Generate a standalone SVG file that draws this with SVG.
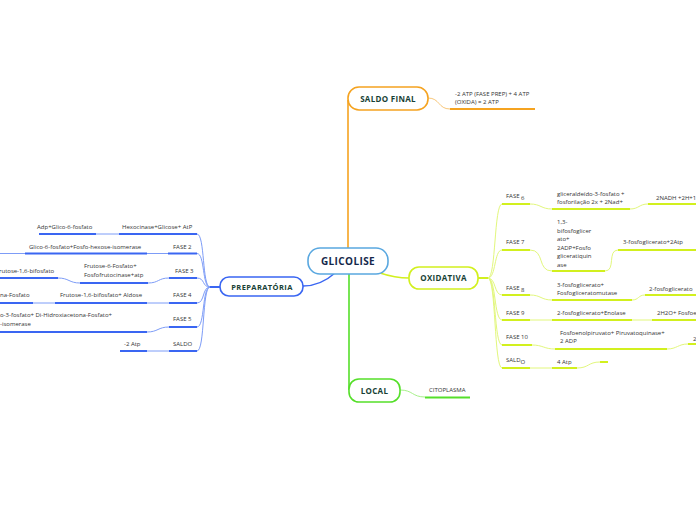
<svg xmlns="http://www.w3.org/2000/svg" width="696" height="520" viewBox="0 0 696 520">
<style>
.bg{fill:#ffffff}
.node{fill:#ffffff;stroke-width:1.6}
.nt{font-family:"Open Sans","DejaVu Sans",sans-serif;font-weight:bold;fill:#173f35;text-anchor:middle}
.t{font-family:"Open Sans","DejaVu Sans",sans-serif;font-size:6px;fill:#333333}
.c{fill:none;stroke-width:1}
.u{fill:none;stroke-width:2}
.blue{stroke:#3a66f2}
.bluec{stroke:#7d9cf7}
.yel{stroke:#d2f01e}
.yelc{stroke:#e2f77c}
.grn{stroke:#55df2a}
.grnc{stroke:#a7f08a}
.org{stroke:#f5a320}
.orgc{stroke:#f8c77a}
</style>
<rect class="bg" x="0" y="0" width="696" height="520"/>
<g id="connectors">
  <path class="c org" d="M348,248 L348,100" style="stroke-width:1.6"/>
  <path class="c grn" d="M349,273 L349,390" style="stroke-width:1.6"/>
  <path class="c blue" d="M335,273 C325,282 315,286 303,286" style="stroke-width:1.4"/>
  <path class="c yel" d="M380,273 C392,277 400,278 409,278" style="stroke-width:1.4"/>
  <path class="c orgc" d="M428,98 C440,98 438,109 450,109"/>
  <path class="c grnc" d="M400,390 C413,390 412,397 425,397"/>
  <path class="c blue" d="M220,287 L210,287" style="stroke-width:2"/>
  <path class="c bluec" d="M210,287 C202,287 205,234 197,234"/>
  <path class="c bluec" d="M210,287 C202,287 205,253.5 197,253.5"/>
  <path class="c bluec" d="M210,287 C202,287 205,278 197,278"/>
  <path class="c bluec" d="M210,287 C202,287 205,303 197,303"/>
  <path class="c bluec" d="M210,287 C202,287 205,327 197,327"/>
  <path class="c bluec" d="M210,287 C202,287 205,351 197,351"/>
  <path class="c bluec" d="M119,234 L96,234"/>
  <path class="c bluec" d="M168,253.5 L147,253.5"/>
  <path class="c bluec" d="M25,253.5 L0,253.5"/>
  <path class="c bluec" d="M169,278 C158,278 159,283 148,283"/>
  <path class="c bluec" d="M80,283 C69,283 69,278 58,278"/>
  <path class="c bluec" d="M169,303 L147,303"/>
  <path class="c bluec" d="M55,303 L33,303"/>
  <path class="c bluec" d="M169,327 C158,327 158,332 147,332"/>
  <path class="c bluec" d="M169,351 L147,351"/>
  <path class="c yel" d="M478,278 L488,278" style="stroke-width:2"/>
  <path class="c yelc" d="M488,278 C496,278 494,204 502,204"/>
  <path class="c yelc" d="M488,278 C496,278 494,250 502,250"/>
  <path class="c yelc" d="M488,278 C496,278 494,295 502,295"/>
  <path class="c yelc" d="M488,278 C496,278 494,320 502,320"/>
  <path class="c yelc" d="M488,278 C496,278 494,345 502,345"/>
  <path class="c yelc" d="M488,278 C496,278 494,368 502,368"/>
  <path class="c yelc" d="M530,204 C541,204 541,209 552,209"/>
  <path class="c yelc" d="M630,209 C639,209 639,204 648,204"/>
  <path class="c yelc" d="M530,250 C545,250 537,271 552,271"/>
  <path class="c yelc" d="M605,271 C616,271 607,250 618,250"/>
  <path class="c yelc" d="M530,295 C541,295 541,300 552,300"/>
  <path class="c yelc" d="M632,300 C639,300 638,295 645,295"/>
  <path class="c yelc" d="M530,320 L552,320"/>
  <path class="c yelc" d="M632,320 L652,320"/>
  <path class="c yelc" d="M532,345 C543,345 544,349 555,349"/>
  <path class="c yelc" d="M667,349 C677,349 678,344 688,344"/>
  <path class="c yelc" d="M530,368 L552,368"/>
  <path class="c yelc" d="M577,368 C589,368 588,362 600,362"/>
</g>
<g id="glicolise">
  <rect class="node" x="308" y="248" width="80" height="26" rx="12" style="stroke:#5aa8e0"/>
  <text class="nt" x="348" y="265" style="font-size:10px;fill:#14284b;letter-spacing:0.4px">GLICOLISE</text>
</g>
<g id="saldo-final">
  <rect class="node org" x="348" y="87" width="80" height="23" rx="11"/>
  <text class="nt" x="388" y="101.5" style="font-size:8px;letter-spacing:0.3px">SALDO FINAL</text>
  <text class="t" x="455" y="96">-2 ATP (FASE PREP) + 4 ATP</text>
  <text class="t" x="455" y="104">(OXIDA) = 2 ATP</text>
  <path class="u org" d="M450,109 L535,109"/>
</g>
<g id="preparatoria">
  <rect class="node blue" x="220" y="277" width="83" height="19" rx="9"/>
  <text class="nt" x="262" y="289.5" style="font-size:7.5px;letter-spacing:0.4px">PREPARATÓRIA</text>
</g>
<g id="prep-fase1">
  <text class="t" x="122" y="229">Hexocinase+Glicose+ AtP</text>
  <path class="u blue" d="M119,234 L197,234"/>
  <text class="t" x="37" y="229">Adp+Glico-6-fosfato</text>
  <path class="u blue" d="M39,234 L96,234"/>
</g>
<g id="prep-fase2">
  <text class="t" x="173" y="248.5">FASE 2</text>
  <path class="u blue" d="M168,253.5 L197,253.5"/>
  <text class="t" x="29" y="248.5">Glico-6-fosfato+Fosfo-hexose-isomerase</text>
  <path class="u blue" d="M25,253.5 L147,253.5"/>
</g>
<g id="prep-fase3">
  <text class="t" x="175" y="273">FASE 3</text>
  <path class="u blue" d="M169,278 L197,278"/>
  <text class="t" x="84" y="268">Frutose-6-Fosfato+</text>
  <text class="t" x="84" y="277">Fosfofrutocinase+atp</text>
  <path class="u blue" d="M80,283 L148,283"/>
  <text class="t" x="-1" y="273">rutose-1,6-bifosfato</text>
  <path class="u blue" d="M0,278 L58,278"/>
</g>
<g id="prep-fase4">
  <text class="t" x="173" y="297">FASE 4</text>
  <path class="u blue" d="M169,303 L197,303"/>
  <text class="t" x="60" y="297">Frutose-1,6-bifosfato+ Aldose</text>
  <path class="u blue" d="M55,303 L147,303"/>
  <text class="t" x="0" y="297">na-Fosfato</text>
  <path class="u blue" d="M0,303 L33,303"/>
</g>
<g id="prep-fase5">
  <text class="t" x="173" y="321">FASE 5</text>
  <path class="u blue" d="M169,327 L197,327"/>
  <text class="t" x="0" y="317">o-3-fosfato+ Di-Hidroxiacetona-Fosfato+</text>
  <text class="t" x="0" y="325.5">-isomerase</text>
  <path class="u blue" d="M0,332 L147,332"/>
</g>
<g id="prep-saldo">
  <text class="t" x="173" y="345.5">SALDO</text>
  <path class="u blue" d="M169,351 L197,351"/>
  <text class="t" x="124" y="345.5">-2 Atp</text>
  <path class="u blue" d="M120,351 L147,351"/>
</g>
<g id="oxidativa">
  <rect class="node yel" x="409" y="267" width="69" height="22" rx="10"/>
  <text class="nt" x="443.5" y="281" style="font-size:8px;letter-spacing:0.3px">OXIDATIVA</text>
</g>
<g id="ox-fase6">
  <text class="t" x="506" y="198">FASE <tspan dy="2">6</tspan></text>
  <path class="u yel" d="M502,204 L530,204"/>
  <text class="t" x="557" y="196">gliceraldeído-3-fosfato +</text>
  <text class="t" x="557" y="204">fosforilação 2x + 2Nad+</text>
  <path class="u yel" d="M552,209 L630,209"/>
  <text class="t" x="656" y="200">2NADH +2H+1</text>
  <path class="u yel" d="M648,204 L696,204"/>
</g>
<g id="ox-fase7">
  <text class="t" x="506" y="244">FASE 7</text>
  <path class="u yel" d="M502,250 L530,250"/>
  <text class="t" x="557" y="224">1,3-</text>
  <text class="t" x="557" y="232.5">bifosfoglicer</text>
  <text class="t" x="557" y="241">ato+</text>
  <text class="t" x="557" y="249.5">2ADP+Fosfo</text>
  <text class="t" x="557" y="258">gliceratiquin</text>
  <text class="t" x="557" y="266.5">ase</text>
  <path class="u yel" d="M552,271 L605,271"/>
  <text class="t" x="623" y="244">3-fosfoglicerato+2Atp</text>
  <path class="u yel" d="M618,250 L696,250"/>
</g>
<g id="ox-fase8">
  <text class="t" x="506" y="289.5">FASE <tspan dy="2">8</tspan></text>
  <path class="u yel" d="M502,295 L530,295"/>
  <text class="t" x="557" y="286.5">3-fosfoglicerato+</text>
  <text class="t" x="557" y="295">Fosfogliceratomutase</text>
  <path class="u yel" d="M552,300 L632,300"/>
  <text class="t" x="649" y="291">2-fosfoglicerato</text>
  <path class="u yel" d="M645,295 L696,295"/>
</g>
<g id="ox-fase9">
  <text class="t" x="506" y="315">FASE 9</text>
  <path class="u yel" d="M502,320 L530,320"/>
  <text class="t" x="557" y="315">2-fosfoglicerato+Enolase</text>
  <path class="u yel" d="M552,320 L632,320"/>
  <text class="t" x="657" y="315">2H2O+ Fosfoe</text>
  <path class="u yel" d="M652,320 L696,320"/>
</g>
<g id="ox-fase10">
  <text class="t" x="506" y="339">FASE 10</text>
  <path class="u yel" d="M502,345 L532,345"/>
  <text class="t" x="560" y="335">Fosfoenolpiruvato+ Piruvatoquinase+</text>
  <text class="t" x="560" y="343">2 ADP</text>
  <path class="u yel" d="M555,349 L667,349"/>
  <text class="t" x="693" y="340.5">2</text>
  <path class="u yel" d="M688,344 L696,344"/>
</g>
<g id="ox-saldo">
  <text class="t" x="506" y="362">SALD<tspan dy="2">O</tspan></text>
  <path class="u yel" d="M502,368 L530,368"/>
  <text class="t" x="557" y="364">4 Atp</text>
  <path class="u yel" d="M552,368 L577,368"/>
  <path class="u yel" d="M600,362 L608,362"/>
</g>
<g id="local">
  <rect class="node grn" x="349" y="379" width="51" height="23" rx="10"/>
  <text class="nt" x="374.5" y="393.5" style="font-size:8px;letter-spacing:0.3px">LOCAL</text>
  <text class="t" x="429" y="392">CITOPLASMA</text>
  <path class="u grn" d="M425,397.5 L470,397.5"/>
</g>
</svg>
